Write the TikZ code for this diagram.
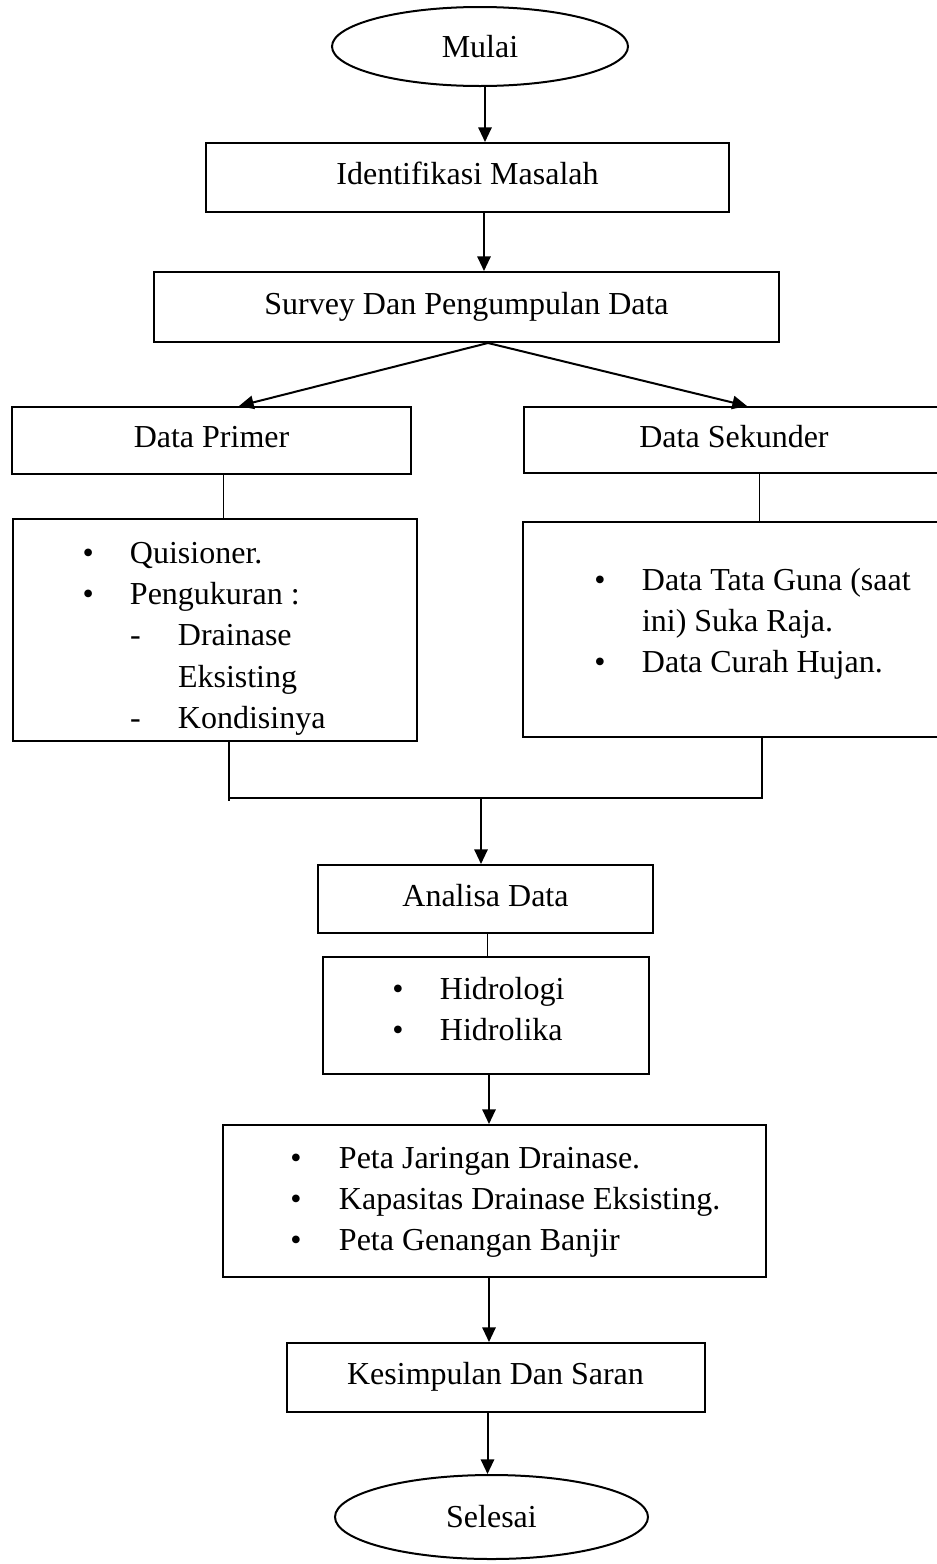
\documentclass[tikz,border=0pt]{standalone}
\usepackage{fontspec}
\setmainfont{Liberation Serif}
\usetikzlibrary{shapes.geometric,arrows.meta,calc}
\newlength{\pxu}\setlength{\pxu}{0.75pt}
\begin{document}
\begin{tikzpicture}[x=0.75pt,y=-0.75pt,
  every node/.style={font=\fontsize{24pt}{31pt}\selectfont},
  box/.style={draw,line width=1.5pt,rectangle,inner sep=0pt},
  term/.style={draw,line width=1.5pt,ellipse,inner sep=0pt},
  one/.style={text height=16.4pt,text depth=5.2pt},
  listbox/.style={box,align=flush left,execute at begin node={\setlength{\parindent}{0pt}}},
  arr/.style={line width=1.5pt,-{Triangle[length=11pt,width=10pt]}},
  tline/.style={line width=0.75pt},
  mergeline/.style={line width=1.5pt}]
\useasboundingbox (0,0) rectangle (937,1564);

\node[term,minimum width=222pt,minimum height=59.25pt] (mulai) at (480,46.5) {Mulai};
\node[box,one,minimum width=392.25pt,minimum height=51.75pt] (ident) at (467.5,177.5) {Identifikasi Masalah};
\node[box,one,minimum width=468.75pt,minimum height=52.5pt] (survey) at (466.5,307) {Survey Dan Pengumpulan Data};
\node[box,one,minimum width=299.25pt,minimum height=50.25pt] (primer) at (211.5,440.5) {Data Primer};
\node[box,one,minimum width=315pt,minimum height=49.5pt] (sekunder) at (734,440) {Data Sekunder};

\node[listbox,text width=303pt,minimum height=166.5pt] (plist) at (215,630) {%
\rule{0pt}{44\pxu}\hspace*{69.5\pxu}\makebox[47.5\pxu][l]{\textbullet}Quisioner.\\
\hspace*{69.5\pxu}\makebox[47.5\pxu][l]{\textbullet}Pengukuran :\\
\hspace*{117\pxu}\makebox[48\pxu][l]{-}Drainase\\
\hspace*{165\pxu}Eksisting\\
\hspace*{117\pxu}\makebox[48\pxu][l]{-}Kondisinya\rule[-12.67\pxu]{0pt}{12.67\pxu}};

\node[listbox,text width=315.75pt,minimum height=161.25pt] (slist) at (733.5,629.5) {%
\rule{0pt}{68\pxu}\hspace*{71.4\pxu}\makebox[47.6\pxu][l]{\textbullet}Data Tata Guna (saat\\
\hspace*{119\pxu}ini) Suka Raja.\\
\hspace*{71.4\pxu}\makebox[47.6\pxu][l]{\textbullet}Data Curah Hujan.\rule[-64.33\pxu]{0pt}{64.33\pxu}};

\node[box,one,minimum width=251.25pt,minimum height=51pt] (analisa) at (485.5,899) {Analisa Data};

\node[listbox,text width=244.5pt,minimum height=87.75pt] (hidro) at (486,1015.5) {%
\rule{0pt}{42\pxu}\hspace*{69.4\pxu}\makebox[47.6\pxu][l]{\textbullet}Hidrologi\\
\hspace*{69.4\pxu}\makebox[47.6\pxu][l]{\textbullet}Hidrolika\rule[-33.67\pxu]{0pt}{33.67\pxu}};

\node[listbox,text width=407.625pt,minimum height=114pt] (peta) at (494.25,1201) {%
\rule{0pt}{43\pxu}\hspace*{67.9\pxu}\makebox[48.6\pxu][l]{\textbullet}Peta Jaringan Drainase.\\
\hspace*{67.9\pxu}\makebox[48.6\pxu][l]{\textbullet}Kapasitas Drainase Eksisting.\\
\hspace*{67.9\pxu}\makebox[48.6\pxu][l]{\textbullet}Peta Genangan Banjir\rule[-26.33\pxu]{0pt}{26.33\pxu}};

\node[box,one,minimum width=313.5pt,minimum height=51.75pt] (kesim) at (495.5,1377.5) {Kesimpulan Dan Saran};
\node[term,minimum width=234.75pt,minimum height=63pt] (selesai) at (491.5,1517) {Selesai};

% connectors
\coordinate (c1) at ($(mulai.south)+(5,0)$);
\draw[arr] (c1) -- (c1 |- ident.north);
\coordinate (c2) at ($(ident.south)+(16.5,0)$);
\draw[arr] (c2) -- (c2 |- survey.north);
\draw[arr] ($(survey.south)+(21.5,0)$) -- ($(primer.north)+(27.5,0)$);
\draw[arr] ($(survey.south)+(21.5,0)$) -- ($(sekunder.north)+(13,0)$);
\coordinate (c5) at ($(primer.south)+(11.5,0)$);
\draw[tline] (c5) -- (c5 |- plist.north);
\coordinate (c6) at ($(sekunder.south)+(25,0)$);
\draw[tline] (c6) -- (c6 |- slist.north);
\coordinate (mL) at ($(plist.south)+(14,0)$);
\coordinate (mR) at ($(slist.south)+(28.5,0)$);
\coordinate (mJ) at ($(analisa.north)+(-4.5,-66)$);
\draw[mergeline] (mL) -- ($(mL |- mJ)+(0,3)$);
\draw[mergeline] (mR) -- (mR |- mJ) -- (mL |- mJ);
\draw[arr] (mJ) -- (mJ |- analisa.north);
\coordinate (c11) at ($(analisa.south)+(1.5,0)$);
\draw[tline] (c11) -- (c11 |- hidro.north);
\coordinate (c12) at ($(hidro.south)+(3,0)$);
\draw[arr] (c12) -- (c12 |- peta.north);
\coordinate (c13) at ($(peta.south)+(-5.25,0)$);
\draw[arr] (c13) -- (c13 |- kesim.north);
\coordinate (c14) at ($(kesim.south)+(-8,0)$);
\draw[arr] (c14) -- (c14 |- selesai.north);
\end{tikzpicture}
\end{document}
